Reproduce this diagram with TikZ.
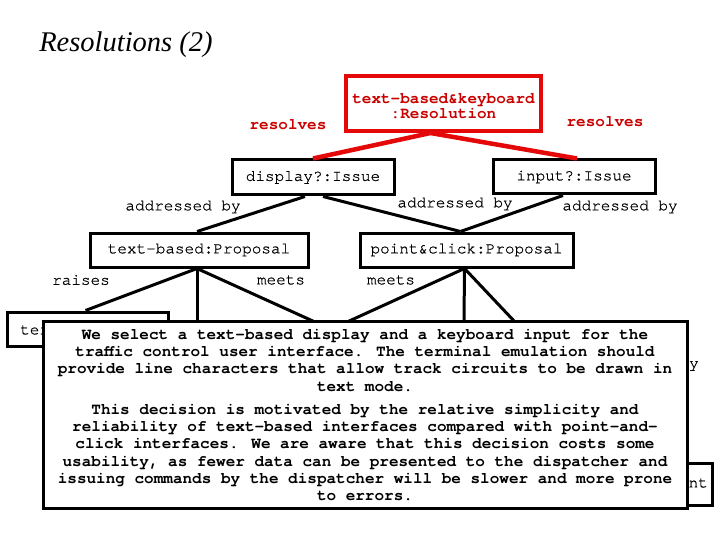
\documentclass[tikz,border=0pt]{standalone}
\usepackage{fontspec}
\newfontfamily\cour[FakeBold=0.7]{TeX Gyre Cursor}
\newfontfamily\courb{TeX Gyre Cursor Bold}
\newfontfamily\tnr{Liberation Serif}
\definecolor{rline}{RGB}{228,8,8}
\definecolor{rtext}{RGB}{200,0,0}
\begin{document}
\begin{tikzpicture}[x=1pt,y=-1pt,
  box/.style={draw, line width=3pt, inner sep=0pt, font=\cour\fontsize{16}{16}\selectfont},
  lbl/.style={inner sep=0pt, font=\cour\fontsize{16}{16}\selectfont},
  rlbl/.style={inner sep=0pt, text=rtext, font=\courb\fontsize{16}{16}\selectfont},
  conn/.style={line width=3pt},
  rconn/.style={line width=4.5pt, rline}]
\useasboundingbox (0,0) rectangle (720,540);
% title
\node[inner sep=0pt, font=\tnr\itshape\fontsize{28.5}{30}\selectfont] (title) at (126,45) {Resolutions (2)};
% nodes
\node[draw=rline, line width=4pt, minimum width=195pt, minimum height=55pt, inner sep=0pt] (res) at (443.5,103.5) {};
\node[inner sep=0pt, align=center, text=rtext, font=\courb\fontsize{16}{15}\selectfont] (rest) at (443.5,106)
  {text-based\&keyboard\\:Resolution};
\node[box, minimum width=162pt, minimum height=35pt] (disp) at (313,177.5) {display?:Issue};
\node[box, minimum width=162pt, minimum height=34pt] (inp) at (574,177) {input?:Issue};
\node[box, minimum width=218pt, minimum height=34pt] (tb) at (199,250) {text-based:Proposal};
\node[box, minimum width=213pt, minimum height=34pt] (pc) at (466.5,250) {point\&click:Proposal};
% labels
\node[rlbl] (l1) at (288,125) {resolves};
\node[rlbl] (l2) at (605,122) {resolves};
\node[lbl] (l3) at (183,207) {addressed by};
\node[lbl] (l4) at (455,204) {addressed by};
\node[lbl] (l5) at (620,207) {addressed by};
\node[lbl] (l6) at (81,280) {raises};
\node[lbl] (l7) at (281,280) {meets};
\node[lbl] (l8) at (391,280) {meets};
% partially hidden nodes
\node[box, minimum width=161pt, minimum height=34pt] (ter) at (87.5,329) {};
\node[lbl, anchor=west] (tert) at (20,330) {ter};
\node[lbl, anchor=west] (yt) at (689,366) {y};
\node[box, minimum width=100pt, minimum height=42pt] (ntb) at (662,484) {};
\node[lbl, anchor=east] (ntt) at (708,483) {nt};
% connector ends on the note
\coordinate (e1) at (315,322);
\coordinate (e2) at (347,322);
\coordinate (e3) at (515,322);
\coordinate (e4) at (197,322);
\coordinate (e5) at (464,322);
% red connectors
\draw[rconn] ([xshift=-13pt]res.south) -- (disp.north);
\draw[rconn] ([xshift=-13pt]res.south) -- ([xshift=3pt]inp.north);
% black connectors
\draw[conn] ([xshift=-8pt]disp.south) -- ([xshift=-2pt]tb.north);
\draw[conn] ([xshift=10pt]disp.south) -- ([xshift=-6pt]pc.north);
\draw[conn] ([xshift=-11pt]inp.south) -- ([xshift=-6pt]pc.north);
\draw[conn] ([xshift=-2pt]tb.south) -- ([xshift=-2pt]ter.north);
\draw[conn] ([xshift=-2pt]tb.south) -- (e4);
\draw[conn] ([xshift=-2pt]tb.south) -- (e1);
\draw[conn] ([xshift=-2pt]pc.south) -- (e2);
\draw[conn] ([xshift=-2pt]pc.south) -- (e5);
\draw[conn] ([xshift=-2pt]pc.south) -- (e3);
% note
\node[draw, fill=white, line width=3pt, minimum width=644pt, minimum height=187pt, inner sep=0pt, align=center,
  font=\courb\fontsize{16}{17.3}\selectfont] (note) at (365,415)
 {We select a text-based display and a keyboard input for the\\
  traffic control user interface.  The terminal emulation should\\
  provide line characters that allow track circuits to be drawn in\\
  text mode.\\[5.7pt]
  This decision is motivated by the relative simplicity and\\
  reliability of text-based interfaces compared with point-and-\\
  click interfaces.  We are aware that this decision costs some\\
  usability, as fewer data can be presented to the dispatcher and\\
  issuing commands by the dispatcher will be slower and more prone\\
  to errors.};
\end{tikzpicture}
\end{document}
